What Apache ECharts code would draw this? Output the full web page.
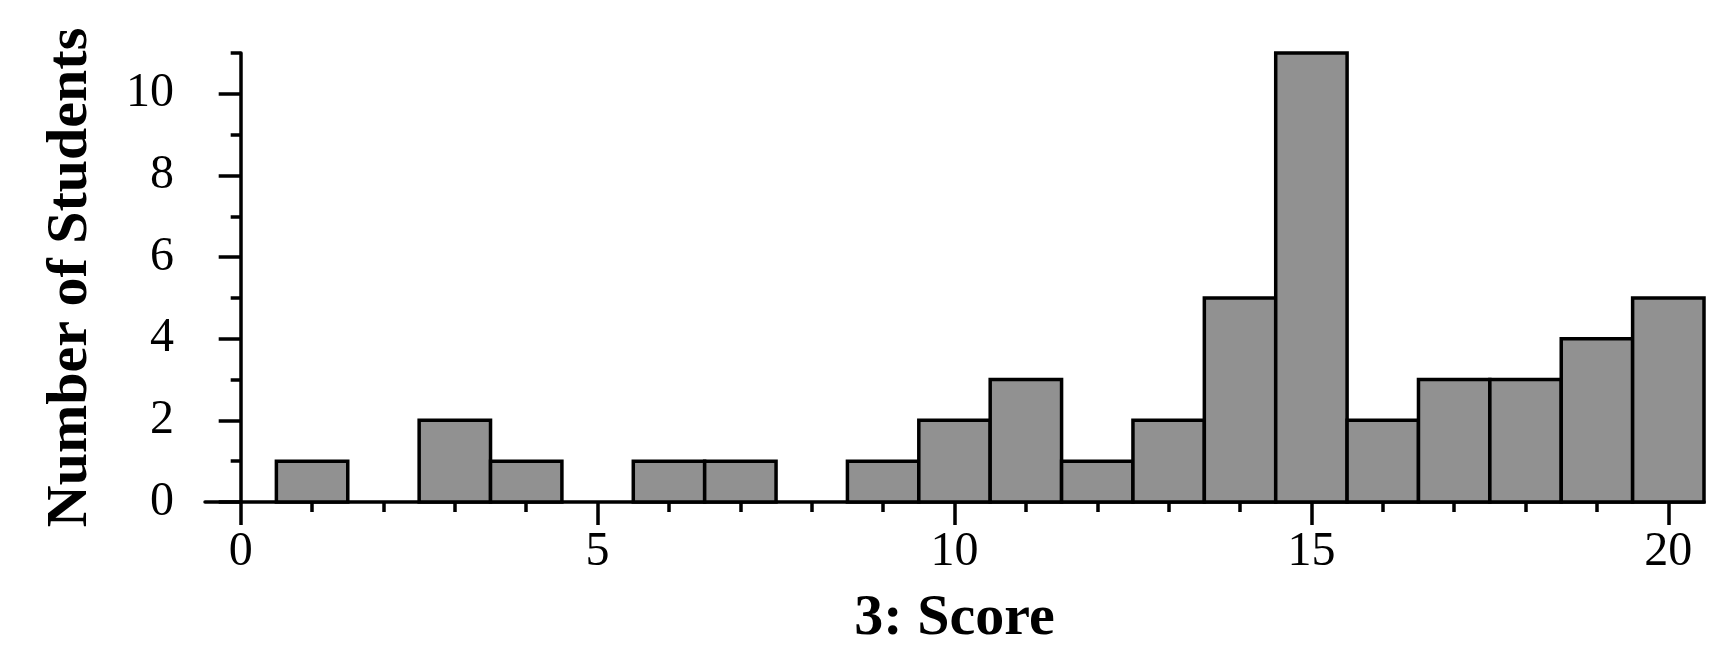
<!DOCTYPE html>
<html>
<head>
<meta charset="utf-8">
<script src="https://cdn.jsdelivr.net/npm/echarts@6/dist/echarts.min.js"></script>
<style>
html,body{margin:0;padding:0;background:#fff;}
#chart{width:1732px;height:659px;}
</style>
</head>
<body>
<div id="chart"></div>
<script>
const scores = [0,1,2,3,4,5,6,7,8,9,10,11,12,13,14,15,16,17,18,19,20];
const counts = [0,1,0,2,1,0,1,1,0,1,2,3,1,2,5,11,2,3,3,4,5];
const xMajorTicks = [0,5,10,15,20];
const xMinorTicks = [1,2,3,4,6,7,8,9,11,12,13,14,16,17,18,19];
const yMajorTicks = [0,2,4,6,8,10];
const yMinorTicks = [1,3,5,7,9,11];
const xTitle = '3: Score';
const yTitle = 'Number of Students';

const FONT = 'Liberation Serif';
const data = scores.map((s,i)=>[s,counts[i]]);

const chart = echarts.init(document.getElementById('chart'));
chart.setOption({
  animation:false,
  backgroundColor:'#ffffff',
  grid:{left:205,right:28,top:53,bottom:157,containLabel:false,outerBoundsMode:'none'},
  xAxis:[{
    type:'value',min:-0.5,max:20.5,position:'bottom',
    name:xTitle,nameLocation:'middle',nameGap:88,
    nameTextStyle:{fontFamily:FONT,fontWeight:'bold',fontSize:58,color:'#000'},
    axisLine:{show:true,lineStyle:{color:'#000',width:3.5}},
    axisTick:{show:true,inside:false,length:23,lineStyle:{color:'#000',width:3.5},customValues:xMajorTicks},
    axisLabel:{show:true,margin:26,fontFamily:FONT,fontSize:48,color:'#000',customValues:xMajorTicks},
    splitLine:{show:false}
  },{
    type:'value',min:-0.5,max:20.5,position:'bottom',offset:0,
    axisLine:{show:false},
    axisTick:{show:true,inside:false,length:10,lineStyle:{color:'#000',width:3.5},customValues:xMinorTicks},
    axisLabel:{show:false},
    splitLine:{show:false}
  }],
  yAxis:[{
    type:'value',min:0,max:11,position:'left',
    name:yTitle,nameLocation:'middle',nameGap:105,nameRotate:90,
    nameTextStyle:{fontFamily:FONT,fontWeight:'bold',fontSize:58,color:'#000'},
    axisLine:{show:true,lineStyle:{color:'#000',width:3.5}},
    axisTick:{show:true,inside:false,length:22,lineStyle:{color:'#000',width:3.5},customValues:yMajorTicks},
    axisLabel:{show:true,margin:31,fontFamily:FONT,fontSize:48,color:'#000',customValues:yMajorTicks},
    splitLine:{show:false}
  },{
    type:'value',min:0,max:11,position:'left',offset:0,
    axisLine:{show:false},
    axisTick:{show:true,inside:false,length:10,lineStyle:{color:'#000',width:3.5},customValues:yMinorTicks},
    axisLabel:{show:false},
    splitLine:{show:false}
  }],
  series:[{
    type:'custom',
    xAxisIndex:0,yAxisIndex:0,
    data:data,
    renderItem:function(params,api){
      const x = api.value(0), y = api.value(1);
      if (!y) return null;
      const p0 = api.coord([x-0.5,y]);
      const p1 = api.coord([x+0.5,0]);
      return {
        type:'rect',
        shape:{x:p0[0],y:p0[1],width:p1[0]-p0[0],height:p1[1]-p0[1]},
        style:{fill:'#919191',stroke:'#000',lineWidth:3.5}
      };
    }
  }]
});
</script>
</body>
</html>
